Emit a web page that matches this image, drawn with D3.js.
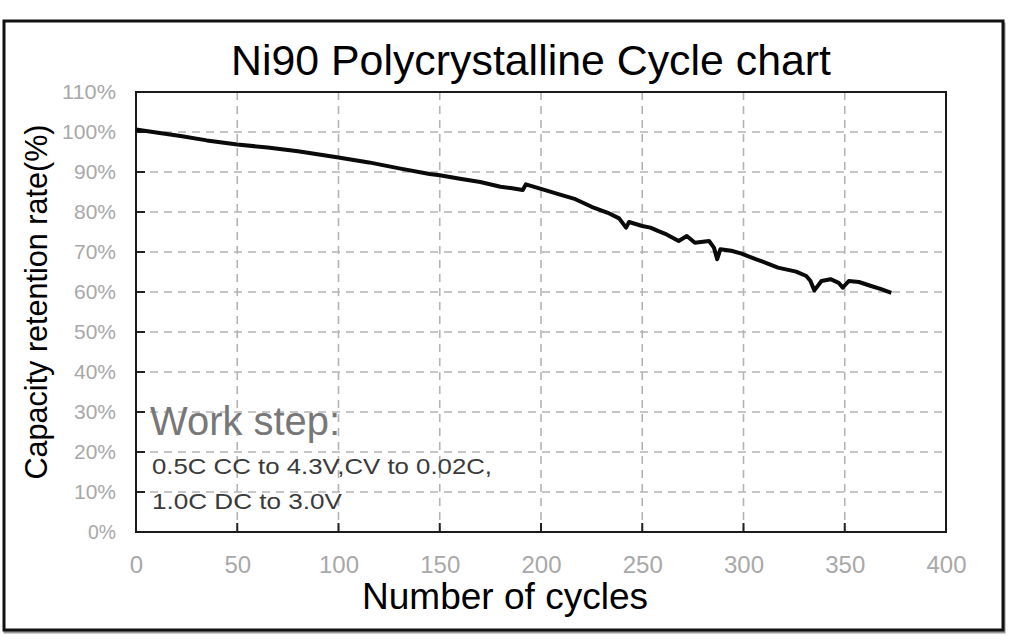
<!DOCTYPE html>
<html>
<head>
<meta charset="utf-8">
<script src="https://cdn.jsdelivr.net/npm/d3@7"></script>
<style>
  body{margin:0;background:#fff;}
  svg{display:block;font-family:"Liberation Sans",Arial,sans-serif;}
</style>
</head>
<body>
<svg width="1024" height="641"></svg>
<script>
// cycle number and capacity retention (%)
var cycles = [0,10,22,35,50,65,80,100,115,130,145,150,160,170,180,185,191,192.5,200,209,217,225,233,238.6,242,243.5,250,254,258,262,268,272,276,283,285.4,287,288.6,294,299,306,311,317,326,331,333,335,338.5,343,347,349,352,357,363,368,373];
var retention = [100.6,99.9,99.0,97.9,96.9,96.1,95.2,93.6,92.4,90.9,89.5,89.2,88.3,87.5,86.3,86.0,85.5,86.9,85.8,84.4,83.2,81.3,79.8,78.4,76.1,77.5,76.5,76.1,75.2,74.4,72.75,74.0,72.3,72.75,71.1,68.2,70.7,70.3,69.6,68.2,67.3,66.1,65.1,64.0,62.8,60.4,62.75,63.2,62.3,61.1,62.75,62.5,61.5,60.7,59.8];
var xTicks = [0,50,100,150,200,250,300,350,400];
var yTicks = [0,10,20,30,40,50,60,70,80,90,100,110];
var titleText = "Ni90 Polycrystalline Cycle chart";
var xTitle = "Number of cycles";
var yTitle = "Capacity retention rate(%)";
var noteHead = "Work step:";
var noteLines = ["0.5C CC to 4.3V,CV to 0.02C,","1.0C DC to 3.0V"];

var svg = d3.select("svg");
var margins={left:136,right:946,top:92,bot:532};

var xScale = d3.scaleLinear().domain([0,400]).range([margins.left,margins.right]);
var yScale = d3.scaleLinear().domain([0,110]).range([margins.bot,margins.top]);

//outer box
svg.append("rect")
   .attr("x",5).attr("y",24).attr("width",999).attr("height",608)
   .attr("fill","none").attr("stroke","#999").attr("stroke-width",3);
svg.append("rect")
   .attr("x",4).attr("y",21).attr("width",999).attr("height",609)
   .attr("fill","#fff").attr("stroke","#111").attr("stroke-width",3);

svg.append("text")
   .attr("x",531).attr("y",75)
   .attr("text-anchor","middle")
   .attr("font-size",43)
   .attr("textLength",600).attr("lengthAdjust","spacingAndGlyphs")
   .text(titleText);

//grid
var grid = svg.append("g").attr("stroke","#b4b4b4").attr("stroke-width",1.6).attr("stroke-dasharray","8,6");
grid.selectAll(".h").data(yTicks.filter(function(d){return d>0&&d<110;}))
   .enter().append("line")
   .attr("x1",margins.left).attr("x2",margins.right)
   .attr("y1",function(d){return yScale(d);}).attr("y2",function(d){return yScale(d);});
grid.selectAll(".v").data(xTicks.filter(function(d){return d>0&&d<400;}))
   .enter().append("line")
   .attr("y1",margins.top).attr("y2",margins.bot)
   .attr("x1",function(d){return xScale(d);}).attr("x2",function(d){return xScale(d);});

//inner ticks
var ticks = svg.append("g").attr("stroke","#222").attr("stroke-width",2);
ticks.selectAll(".yt").data(yTicks.filter(function(d){return d>0&&d<110;}))
   .enter().append("line")
   .attr("x1",margins.left).attr("x2",margins.left+9)
   .attr("y1",function(d){return yScale(d);}).attr("y2",function(d){return yScale(d);});
ticks.selectAll(".xt").data(xTicks.filter(function(d){return d>0&&d<400;}))
   .enter().append("line")
   .attr("y1",margins.bot).attr("y2",margins.bot-9)
   .attr("x1",function(d){return xScale(d);}).attr("x2",function(d){return xScale(d);});

//frame
svg.append("rect")
   .attr("x",margins.left).attr("y",margins.top)
   .attr("width",margins.right-margins.left).attr("height",margins.bot-margins.top)
   .attr("fill","none").attr("stroke","#1a1a1a").attr("stroke-width",2);

//tick labels
var xAxis = d3.axisBottom(xScale).tickValues(xTicks).tickSize(0).tickPadding(24);
var yAxis = d3.axisLeft(yScale).tickValues(yTicks).tickSize(0).tickPadding(20)
              .tickFormat(function(d){return d+"%";});

svg.append("g")
   .classed("xAxis",true)
   .attr("transform","translate(0,"+margins.bot+")")
   .call(xAxis);
svg.append("g")
   .classed("yAxis",true)
   .attr("transform","translate("+margins.left+",0)")
   .call(yAxis);
svg.selectAll(".xAxis .domain,.yAxis .domain").remove();
svg.selectAll(".xAxis text").attr("font-size",24).attr("fill","#a8a8a8").attr("font-family","Liberation Sans");
svg.selectAll(".yAxis text").attr("font-size",21).attr("fill","#a8a8a8").attr("font-family","Liberation Sans")
   .attr("textLength",function(d){return d>=100?54:(d>0?42:28);}).attr("lengthAdjust","spacingAndGlyphs");

//data line
var line = d3.line()
             .x(function(d){return xScale(d[0]);})
             .y(function(d){return yScale(d[1]);});
var pts = cycles.map(function(d,i){return [d,retention[i]];});
svg.append("path")
   .datum(pts)
   .attr("d",line)
   .attr("fill","none")
   .attr("stroke","#0a0a0a")
   .attr("stroke-width",4)
   .attr("stroke-linejoin","round");

//note
svg.append("text")
   .attr("x",150).attr("y",435)
   .attr("font-size",40).attr("fill","#777")
   .attr("textLength",190).attr("lengthAdjust","spacingAndGlyphs")
   .text(noteHead);
svg.selectAll(".note").data(noteLines).enter().append("text")
   .attr("x",152)
   .attr("y",function(d,i){return 474+i*35;})
   .attr("font-size",22).attr("fill","#3a3a3a")
   .attr("textLength",function(d,i){return i==0?340:190;})
   .attr("lengthAdjust","spacingAndGlyphs")
   .text(function(d){return d;});

//axis titles
svg.append("text")
   .attr("x",505).attr("y",609)
   .attr("text-anchor","middle")
   .attr("font-size",37)
   .attr("textLength",286).attr("lengthAdjust","spacingAndGlyphs")
   .text(xTitle);
svg.append("text")
   .attr("transform","translate(47,302) rotate(-90)")
   .attr("text-anchor","middle")
   .attr("font-size",32)
   .attr("textLength",355).attr("lengthAdjust","spacingAndGlyphs")
   .text(yTitle);
</script>
</body>
</html>
